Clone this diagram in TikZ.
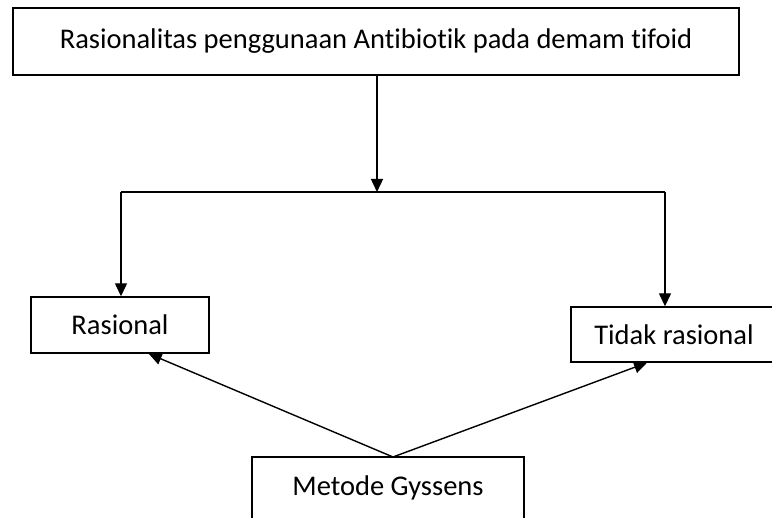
\documentclass[tikz,border=0pt]{standalone}
\usepackage{fontspec}
\setmainfont{Carlito}[RawFeature=-liga]
\usetikzlibrary{arrows.meta,calc}
\begin{document}
\begin{tikzpicture}[x=1pt,y=-1pt,
  box/.style={draw=black,line width=1.4pt,rectangle,inner sep=0pt,font=\fontsize{28.5}{34}\selectfont},
  conn/.style={draw=black,line width=1.4pt},
  arr/.style={conn,-{Triangle[length=13pt,width=12pt]}}]
\useasboundingbox (0,0) rectangle (772,518);
\node[box,minimum width=726pt,minimum height=67pt] (top) at (376,41.5) {Rasionalitas penggunaan Antibiotik pada demam tifoid};
\node[box,minimum width=178pt,minimum height=56pt] (ras) at (120,325) {Rasional};
\node[box,minimum width=206pt,minimum height=55pt] (tid) at (674,334.5) {Tidak rasional};
\node[box,minimum width=272pt,minimum height=62pt] (met) at (388,488) {Metode Gyssens};
\coordinate (jc) at (377,192);
\coordinate (jl) at (121,192);
\coordinate (jr) at (665,192);
\coordinate (apex) at (393,457);
\draw[arr] (top.south -| jc) -- (jc);
\draw[conn] (jl) -- (jr);
\draw[arr] (jl) -- (jl |- ras.north);
\draw[arr] (jr) -- (jr |- tid.north);
\draw[arr] (apex) -- ($(ras.south west)!0.66!(ras.south east)$);
\draw[arr] (apex) -- ($(tid.south west)!0.37!(tid.south east)$);
\end{tikzpicture}
\end{document}
